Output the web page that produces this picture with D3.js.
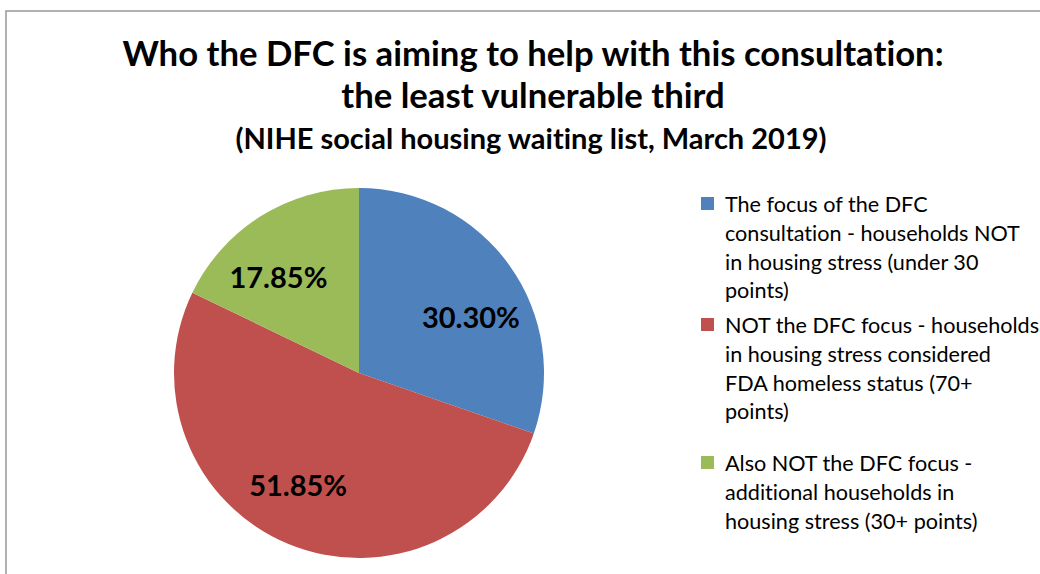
<!DOCTYPE html>
<html><head><meta charset="utf-8">
<script src="https://cdn.jsdelivr.net/npm/d3@7"></script>
<style>html,body{margin:0;padding:0;background:#fff;} svg{display:block;font-family:Lato,"Open Sans",sans-serif;font-variant-ligatures:none;font-feature-settings:"liga" 0;}</style>
</head><body>
<svg id="c" width="1040" height="574"></svg>
<script>
const categories = [
  "The focus of the DFC consultation - households NOT in housing stress (under 30 points)",
  "NOT the DFC focus - households in housing stress considered FDA homeless status (70+ points)",
  "Also NOT the DFC focus - additional households in housing stress (30+ points)"
];
const legendLines = [
  ["The focus of the DFC", "consultation - households NOT", "in housing stress (under 30", "points)"],
  ["NOT the DFC focus - households", "in housing stress considered", "FDA homeless status (70+", "points)"],
  ["Also NOT the DFC focus -", "additional households in", "housing stress (30+ points)"]
];
const values = [30.30, 51.85, 17.85];
const colors = ["#4F81BD", "#C0504D", "#9BBB59"];
const titleLines = ["Who the DFC is aiming to help with this consultation:", "the least vulnerable third"];
const subtitle = "(NIHE social housing waiting list, March 2019)";

const svg = d3.select("#c");
// outer chart border
svg.append("rect").attr("x", 6).attr("y", 11).attr("width", 1100).attr("height", 700)
  .attr("fill", "none").attr("stroke", "#989898").attr("stroke-width", 1.5);

svg.append("text").attr("x", 533).attr("y", 66).attr("text-anchor", "middle")
  .attr("font-weight", "bold").attr("font-size", 34.7).attr("fill", "#000").text(titleLines[0]);
svg.append("text").attr("x", 533).attr("y", 108).attr("text-anchor", "middle")
  .attr("font-weight", "bold").attr("font-size", 34.7).attr("fill", "#000").text(titleLines[1]);
svg.append("text").attr("x", 531).attr("y", 149).attr("text-anchor", "middle")
  .attr("font-weight", "bold").attr("font-size", 29).attr("fill", "#000").text(subtitle);

const cx = 359, cy = 373, R = 185;
const pie = d3.pie().sort(null).value(d => d)(values);
const arc = d3.arc().innerRadius(0).outerRadius(R);
const g = svg.append("g").attr("transform", `translate(${cx},${cy})`);
g.selectAll("path").data(pie).join("path").attr("d", arc)
  .attr("fill", (d, i) => colors[i]).attr("stroke", "none");

// label placement: angular nudge / radius, styling only
const labelAdj = [{da: 9, r: 125}, {da: 6, r: 128}, {da: -8, r: 125}];
g.selectAll("text.lbl").data(pie).join("text").attr("class", "lbl")
  .attr("x", (d, i) => { const a = (d.startAngle + d.endAngle) / 2 + labelAdj[i].da * Math.PI / 180; return labelAdj[i].r * Math.sin(a); })
  .attr("y", (d, i) => { const a = (d.startAngle + d.endAngle) / 2 + labelAdj[i].da * Math.PI / 180; return -labelAdj[i].r * Math.cos(a); })
  .attr("dy", "0.36em").attr("text-anchor", "middle")
  .attr("font-weight", "bold").attr("font-size", 29).attr("fill", "#000")
  .text(d => d3.format(".2f")(d.value) + "%");

const legendTops = [197, 318, 456];
const lg = svg.append("g");
legendLines.forEach((lines, i) => {
  lg.append("rect").attr("x", 701).attr("y", legendTops[i]).attr("width", 13).attr("height", 13).attr("fill", colors[i]);
  const t = lg.append("text").attr("x", 725).attr("y", legendTops[i] + 15)
    .attr("font-size", 21.6).attr("fill", "#000");
  lines.forEach((ln, j) => t.append("tspan").attr("x", 725).attr("dy", j === 0 ? 0 : 28.8).text(ln));
});
</script>
</body></html>
